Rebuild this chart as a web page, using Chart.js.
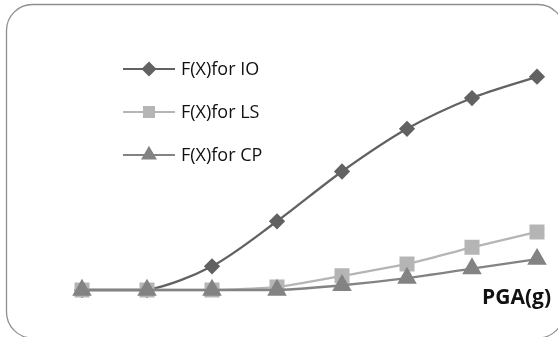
<!DOCTYPE html>
<html>
<head>
<meta charset="utf-8">
<script src="https://cdn.jsdelivr.net/npm/chart.js@4/dist/chart.umd.min.js"></script>
<style>
html,body{margin:0;padding:0;background:#fff;}
canvas{display:block;}
</style>
</head>
<body>
<canvas id="c" width="558" height="337"></canvas>
<script>
const categories = ['0.1','0.2','0.3','0.4','0.5','0.6','0.7','0.8'];
const seriesIO = [0, 0, 0.10, 0.29, 0.50, 0.68, 0.81, 0.90];
const seriesLS = [0, 0, 0, 0.013, 0.06, 0.11, 0.18, 0.245];
const seriesCP = [0, 0, 0, 0, 0.02, 0.05, 0.09, 0.13];
const seriesLabels = ['F(X)for IO', 'F(X)for LS', 'F(X)for CP'];
const axisTitle = 'PGA(g)';

const FONT = '"Open Sans", sans-serif';

const frame = {
  id: 'frame',
  beforeDraw(chart) {
    const ctx = chart.ctx;
    ctx.save();
    ctx.fillStyle = '#fff';
    ctx.fillRect(0, 0, chart.width, chart.height);
    const x = 6.5, y = 4.5, w = 557.5, h = 333.5, r = 26;
    ctx.beginPath();
    ctx.moveTo(x + r, y);
    ctx.lineTo(x + w - r, y);
    ctx.arcTo(x + w, y, x + w, y + r, r);
    ctx.lineTo(x + w, y + h - r);
    ctx.arcTo(x + w, y + h, x + w - r, y + h, r);
    ctx.lineTo(x + r, y + h);
    ctx.arcTo(x, y + h, x, y + h - r, r);
    ctx.lineTo(x, y + r);
    ctx.arcTo(x, y, x + r, y, r);
    ctx.closePath();
    ctx.strokeStyle = '#8e8e8e';
    ctx.lineWidth = 1.3;
    ctx.stroke();
    ctx.restore();
  },
  afterDraw(chart) {
    const ctx = chart.ctx;
    ctx.save();
    const rows = [69, 112, 155];
    const legendRadius = [6, 7, 7];
    chart.data.datasets.forEach((ds, i) => {
      const yy = rows[i];
      ctx.strokeStyle = ds.borderColor;
      ctx.lineWidth = 2.2;
      ctx.beginPath();
      ctx.moveTo(123, yy);
      ctx.lineTo(175, yy);
      ctx.stroke();
      ctx.fillStyle = ds.pointBackgroundColor;
      ctx.strokeStyle = ds.pointBorderColor;
      Chart.helpers.drawPoint(ctx, {pointStyle: ds.pointStyle, radius: legendRadius[i], borderWidth: 1}, 149, yy);
      ctx.fillStyle = '#111';
      ctx.font = '18px ' + FONT;
      ctx.textBaseline = 'middle';
      ctx.textAlign = 'left';
      ctx.fillText(ds.label, 181, yy + 1);
    });
    ctx.font = 'bold 21px ' + FONT;
    ctx.fillStyle = '#111';
    ctx.textAlign = 'right';
    ctx.textBaseline = 'middle';
    ctx.fillText(axisTitle, chart.chartArea.right + 14, chart.chartArea.bottom + 8);
    ctx.restore();
  }
};

function mk(label, data, color, style, radius, order) {
  return {
    label, data, order,
    borderColor: color,
    backgroundColor: color,
    pointBackgroundColor: color,
    pointBorderColor: color,
    pointStyle: style,
    pointRadius: radius,
    pointHoverRadius: radius,
    borderWidth: 2.3,
    tension: 0.3,
    clip: false
  };
}

new Chart(document.getElementById('c'), {
  type: 'line',
  data: {
    labels: categories,
    datasets: [
      mk(seriesLabels[0], seriesIO, '#626262', 'rectRot', 6.5, 3),
      mk(seriesLabels[1], seriesLS, '#b5b5b5', 'rect', 9, 2),
      mk(seriesLabels[2], seriesCP, '#838383', 'triangle', 9, 1)
    ]
  },
  options: {
    responsive: false,
    animation: false,
    devicePixelRatio: 1,
    layout: { padding: { left: 82, right: 21, top: 53, bottom: 47 } },
    plugins: { legend: { display: false }, tooltip: { enabled: false } },
    scales: {
      x: { display: false, offset: false },
      y: { display: false, min: 0, max: 1 }
    }
  },
  plugins: [frame]
});
</script>
</body>
</html>
